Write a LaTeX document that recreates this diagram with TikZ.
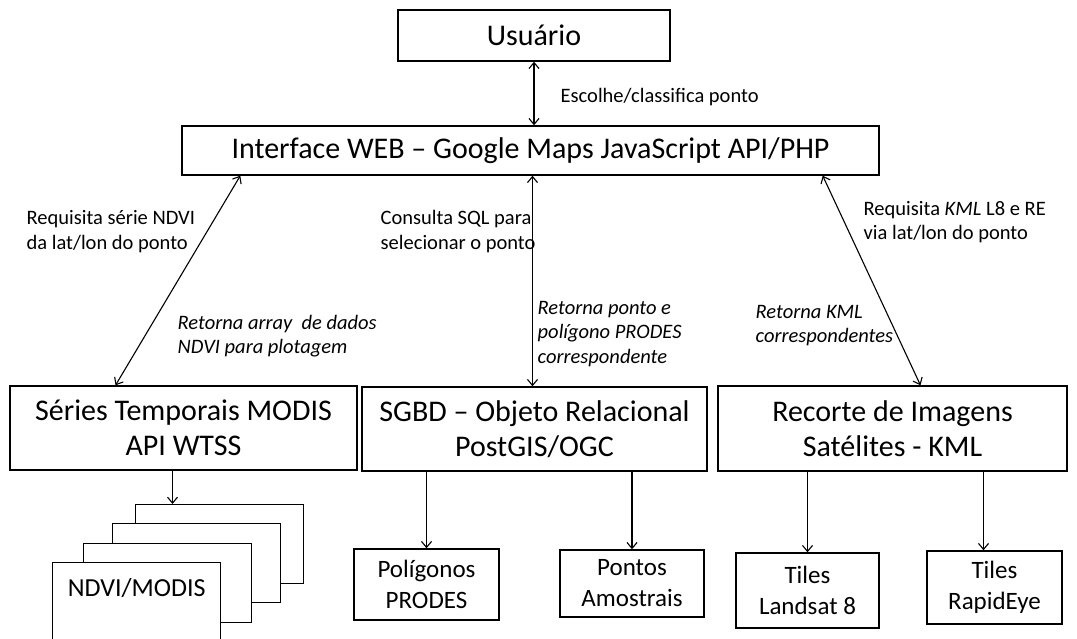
\documentclass[tikz,border=0pt]{standalone}
\usepackage{fontspec}
\setmainfont{Carlito}
\usetikzlibrary{shapes,positioning,arrows.meta}

\begin{document}
\begin{tikzpicture}[x=1pt,y=-1pt,line width=1.4pt,
    >={Straight Barb[length=6pt,width=10pt]},
    box/.style={draw, rectangle, align=center, inner sep=0,
        font=\fontsize{30}{35}\selectfont},
    smallbox/.style={draw, rectangle, align=center, inner sep=0,
        font=\fontsize{25}{31}\selectfont},
    sheet/.style={draw, rectangle, fill=white, anchor=north west,
        minimum width=168, minimum height=79, inner sep=0},
    lbl/.style={anchor=west, align=left, inner sep=0,
        font=\fontsize{20.5}{24.5}\selectfont},
    link/.style={<->, line width=1.1pt},
    down/.style={->, line width=1.1pt}]

\useasboundingbox (0,0) rectangle (1077,639);

% Top blocks
\node[box,
    minimum width=272,
    minimum height=51] (usuario) at (534,35.5) {Usuário};

\node[box,
    minimum width=697,
    minimum height=49] (interface) at (530.5,150.5)
    {Interface WEB -- Google Maps JavaScript API/PHP};

% Middle row
\node[box,
    minimum width=347,
    minimum height=84] (series) at (183.5,428)
    {Séries Temporais MODIS\\API WTSS};

\node[box,
    minimum width=345,
    minimum height=84] (sgbd) at (534.5,429)
    {SGBD -- Objeto Relacional\\PostGIS/OGC};

\node[box,
    minimum width=349,
    minimum height=85] (recorte) at (892.5,428.5)
    {Recorte de Imagens\\Satélites - KML};

% Bottom row
\node[smallbox,
    minimum width=145,
    minimum height=71] (poligonos) at (426.5,584.5) {Polígonos\\PRODES};

\node[smallbox,
    minimum width=144,
    minimum height=67] (pontos) at (632,583.5) {Pontos\\Amostrais};

\node[smallbox,
    minimum width=143,
    minimum height=75] (landsat) at (807.5,590.5) {Tiles\\Landsat 8};

\node[smallbox,
    minimum width=135,
    minimum height=73] (rapideye) at (994.5,587.5) {Tiles\\RapidEye};

% Stack of NDVI sheets
\node[sheet] (sheetc) at (135,504) {};
\node[sheet] (sheetb) at (112,523) {};
\node[sheet] (sheeta) at (83,543) {};
\node[sheet,
    minimum height=80,
    font=\fontsize{26}{30}\selectfont,
    text height=19pt,
    text depth=31pt] (ndvi) at (52,562) {NDVI/MODIS};

% Labels
\node[lbl] (escolhe) at (560,97) {Escolhe/classifica ponto};
\node[lbl] (reqndvi) at (26,231.5) {Requisita série NDVI\\da lat/lon do ponto};
\node[lbl] (consulta) at (380,231.5) {Consulta SQL para\\selecionar o ponto};
\node[lbl] (reqkml) at (863,222) {Requisita \textit{KML} L8 e RE\\via lat/lon do ponto};
\node[lbl,font=\fontsize{20.5}{24.5}\itshape] (retndvi) at (177,336)
    {Retorna array\ \ de dados\\NDVI para plotagem};
\node[lbl,font=\fontsize{20.5}{24.5}\itshape] (retponto) at (537,334)
    {Retorna ponto e\\polígono PRODES\\correspondente};
\node[lbl,font=\fontsize{20.5}{24.5}\itshape] (retkml) at (755,325.5)
    {Retorna KML\\correspondentes};

% Arrows
\draw[link] (usuario.south) -- (usuario.south |- interface.north);
\draw[link] ([xshift=59pt]interface.south west) -- ([xshift=-68pt]series.north);
\draw[link] ([xshift=2pt]interface.south) -- ([xshift=2pt]interface.south |- sgbd.north);
\draw[link] ([xshift=-57pt]interface.south east) -- ([xshift=28pt]recorte.north);

\draw[down] ([xshift=-11pt]series.south) -- ([xshift=-11pt]series.south |- sheetc.north);
\draw[down] (sgbd.south -| poligonos.north) -- (poligonos.north);
\draw[down] (sgbd.south -| pontos.north) -- (pontos.north);
\draw[down] (recorte.south -| landsat.north) -- (landsat.north);
\draw[down] ([xshift=-11pt]recorte.south -| rapideye.north) -- ([xshift=-11pt]rapideye.north);

\end{tikzpicture}
\end{document}
